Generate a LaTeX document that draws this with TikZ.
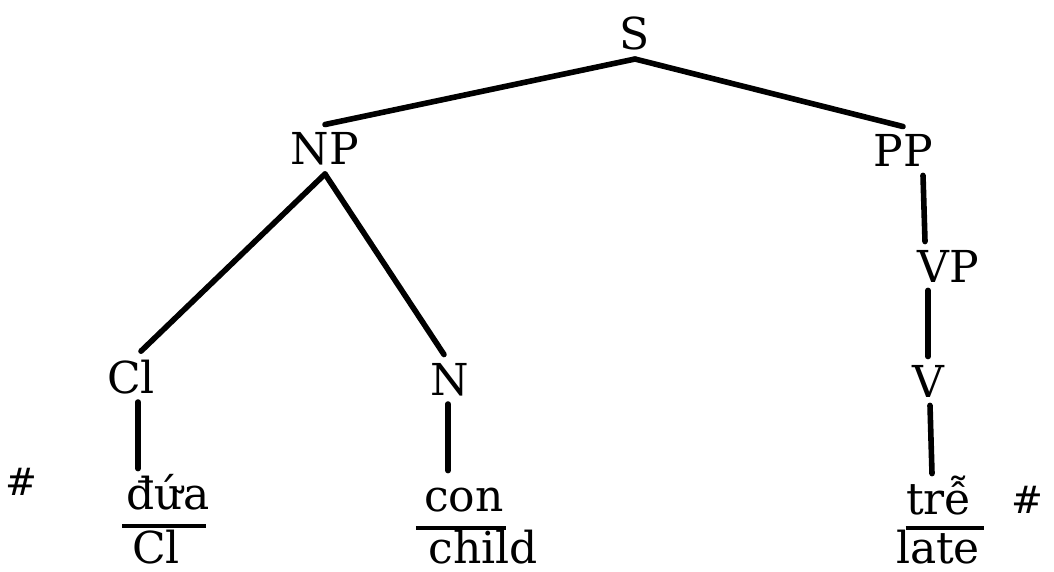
\documentclass[tikz,border=0pt]{standalone}
\usepackage{fontspec}
\setmainfont{DejaVu Serif}
\usetikzlibrary{calc}

\begin{document}
\begin{tikzpicture}[x=0.5pt,y=-0.5pt,
  Cat/.style={anchor=base,inner sep=4pt,font=\fontsize{22}{26}\selectfont},
  Leaf/.style={Cat,text height=16pt},
  Gloss/.style={Cat,inner sep=0pt},
  Bound/.style={anchor=base,inner sep=0pt,font=\fontsize{19}{22}\selectfont},
  Branch/.style={line width=2.8pt,line cap=round},
  Rule/.style={line width=1.6pt}]
\useasboundingbox (0,0) rectangle (1054,572);

\node[Cat] (S) at (635,50) {S};
\node[Cat] (NP) at (325,165) {NP};
\node[Cat] (PP) at (903,167) {PP};
\node[Cat] (VP) at (948,282) {VP};
\node[Cat] (Cl) at (131,393) {Cl};
\node[Cat] (N) at (450,395) {N};
\node[Cat] (V) at (928,397) {V};

\node[Leaf] (dua) at (168,509) {đứa};
\node[Leaf] (con) at (464,511) {con};
\node[Leaf] (tre) at (939,514) {trễ};

\node[Gloss] (ClG) at (156,563) {Cl};
\node[Gloss] (child) at (483,563) {child};
\node[Gloss] (late) at (938,563) {late};

\node[Bound] (hashL) at (21,495) {\#};
\node[Bound] (hashR) at (1027,513) {\#};

\draw[Branch] (S.south) -- (NP.north);
\draw[Branch] (S.south) -- (PP.north);
\draw[Branch] (NP.south) -- ([xshift=5pt]Cl.north);
\draw[Branch] (NP.south) -- ([xshift=-3pt]N.north);
\draw[Branch] ([xshift=10pt]PP.south) -- ([xshift=-11.5pt]VP.north);
\draw[Branch] ([xshift=-10pt]VP.south) -- (V.north);
\draw[Branch] ([xshift=3.5pt]Cl.south) -- ([xshift=-15pt]dua.north);
\draw[Branch] ([xshift=-1pt]N.south) -- ([xshift=-8pt]con.north);
\draw[Branch] ([xshift=1pt]V.south) -- ([xshift=-3.5pt]tre.north);

\draw[Rule] ([xshift=2pt,yshift=-4pt]dua.south west) -- ([xshift=-6pt,yshift=-4pt]dua.south east);
\draw[Rule] ([xshift=0pt,yshift=-4pt]con.south west) -- ([xshift=-3pt,yshift=-4pt]con.south east);
\draw[Rule] ([xshift=4pt,yshift=-2.5pt]tre.south west) -- ([xshift=2pt,yshift=-2.5pt]tre.south east);
\end{tikzpicture}
\end{document}
